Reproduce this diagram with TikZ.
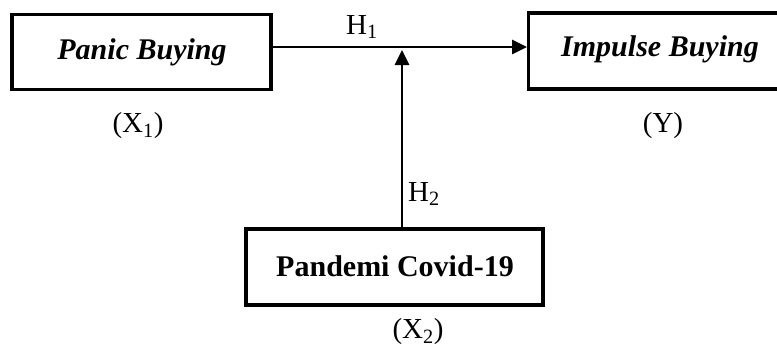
\documentclass[tikz,border=0pt]{standalone}
\usepackage{fontspec}
\setmainfont{Liberation Serif}
\usetikzlibrary{arrows.meta}
\begin{document}
\begin{tikzpicture}[x=1pt,y=-1pt,
  varbox/.style={draw,line width=3.2pt,inner sep=0pt},
  boxtext/.style={font=\fontsize{30}{34}\selectfont\bfseries,inner sep=0pt},
  link/.style={line width=2.8pt,-{Triangle[length=15pt,width=14pt]}},
  lbl/.style={font=\fontsize{29}{33}\selectfont,inner sep=0pt}]
\useasboundingbox (0,0) rectangle (777,351);
% variable boxes
\node[varbox,minimum width=259pt,minimum height=75pt] (pb) at (141.5,52) {};
\node[boxtext,font=\fontsize{30}{34}\selectfont\bfseries\itshape] (pbt) at (142,52) {Panic Buying};
\node[varbox,minimum width=262pt,minimum height=76pt,anchor=west] (ib) at (527,51) {};
\node[boxtext,font=\fontsize{30}{34}\selectfont\bfseries\itshape] (ibt) at (660,49) {Impulse Buying};
\node[varbox,minimum width=297pt,minimum height=76pt] (pc) at (394.5,267) {};
\node[boxtext] (pct) at (395,266) {Pandemi Covid-19};
% codes under the boxes
\node[lbl] (x1) at (138,126) {(X\textsubscript{1})};
\node[lbl] (y) at (663,126) {(Y)};
\node[lbl] (x2) at (418,332) {(X\textsubscript{2})};
% paths
\coordinate (mid) at (402,50);
\draw[link] (pb.east |- 0,47) -- (ib.west |- 0,47);
\draw[link] (pc.north -| mid) -- (mid);
\node[lbl] (h1) at (362,27) {H\textsubscript{1}};
\node[lbl] (h2) at (424,194) {H\textsubscript{2}};
\end{tikzpicture}
\end{document}
